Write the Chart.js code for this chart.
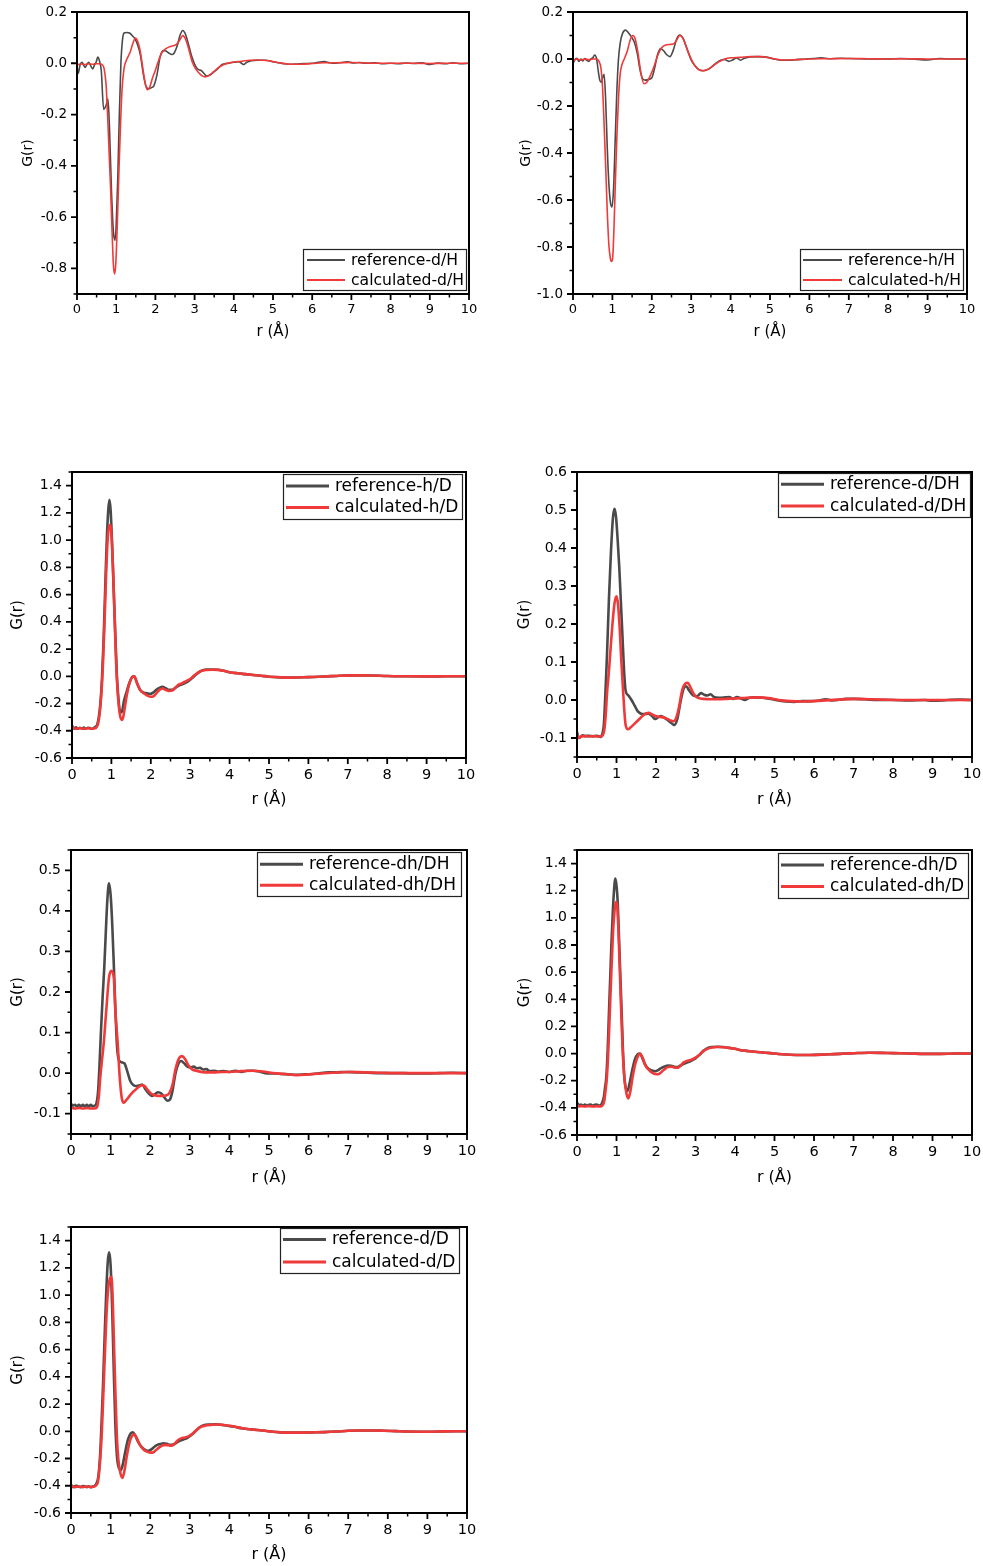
<!DOCTYPE html>
<html>
<head>
<meta charset="utf-8">
<script src="https://cdn.jsdelivr.net/npm/chart.js@4.4.0/dist/chart.umd.min.js"></script>
<style>
  html,body{margin:0;padding:0;background:#fff;}
  body{width:983px;height:1566px;position:relative;overflow:hidden;}
  canvas{position:absolute;display:block;}
</style>
</head>
<body>
<canvas id="c1"></canvas>
<canvas id="c2"></canvas>
<canvas id="c3"></canvas>
<canvas id="c4"></canvas>
<canvas id="c5"></canvas>
<canvas id="c6"></canvas>
<canvas id="c7"></canvas>
<script>
// ---------- tick labels ----------
const xTicks = [0,1,2,3,4,5,6,7,8,9,10];
const yTicks_dH = [0.2,0.0,-0.2,-0.4,-0.6,-0.8];
const yTicks_hH = [0.2,0.0,-0.2,-0.4,-0.6,-0.8,-1.0];
const yTicks_D = [1.4,1.2,1.0,0.8,0.6,0.4,0.2,0.0,-0.2,-0.4,-0.6];
const yTicks_dDH = [0.6,0.5,0.4,0.3,0.2,0.1,0.0,-0.1];
const yTicks_dhDH = [0.5,0.4,0.3,0.2,0.1,0.0,-0.1];

// ---------- series: [r (Å), G(r)] ----------
const ref_dH = [[0,-0.01],[0.03,-0.04],[0.08,-0.005],[0.13,0.004],[0.17,-0.008],[0.21,-0.016],[0.26,-0.002],[0.3,0.004],[0.35,-0.01],[0.4,-0.022],[0.45,-0.005],[0.49,0.005],[0.53,0.024],[0.58,0.005],[0.62,-0.03],[0.68,-0.18],[0.74,-0.165],[0.79,-0.14],[0.83,-0.26],[0.88,-0.5],[0.93,-0.66],[0.97,-0.69],[1.0,-0.63],[1.04,-0.45],[1.08,-0.2],[1.12,0.0],[1.16,0.09],[1.2,0.118],[1.27,0.12],[1.34,0.118],[1.41,0.108],[1.48,0.095],[1.55,0.07],[1.62,0.03],[1.69,-0.04],[1.76,-0.09],[1.83,-0.1],[1.9,-0.095],[1.96,-0.088],[2.04,-0.045],[2.12,0.025],[2.2,0.05],[2.27,0.048],[2.34,0.04],[2.42,0.034],[2.48,0.04],[2.56,0.07],[2.63,0.11],[2.7,0.128],[2.77,0.112],[2.85,0.07],[2.93,0.025],[3.02,-0.01],[3.1,-0.025],[3.17,-0.028],[3.24,-0.04],[3.31,-0.05],[3.4,-0.045],[3.5,-0.033],[3.6,-0.02],[3.7,-0.005],[3.85,0.0],[4.0,0.004],[4.12,0.006],[4.2,0.0],[4.25,-0.005],[4.33,0.004],[4.45,0.01],[4.6,0.012],[4.8,0.012],[5.0,0.006],[5.15,0.002],[5.3,-0.002],[5.45,-0.004],[5.6,-0.003],[5.8,-0.001],[6.0,0.0],[6.15,0.004],[6.3,0.007],[6.45,0.002],[6.6,0.0],[6.75,0.003],[6.9,0.006],[7.05,0.001],[7.2,0.003],[7.4,0.0],[7.6,0.002],[7.8,-0.002],[8.0,0.0],[8.2,-0.002],[8.4,0.001],[8.6,-0.001],[8.8,0.002],[9.0,-0.005],[9.2,0.001],[9.4,-0.002],[9.6,0.002],[9.8,-0.002],[10,0.0]];
const calc_dH = [[0,-0.006],[0.1,-0.003],[0.2,-0.005],[0.3,-0.002],[0.4,-0.004],[0.5,-0.002],[0.58,-0.002],[0.64,-0.006],[0.69,-0.02],[0.74,-0.08],[0.78,-0.2],[0.82,-0.35],[0.86,-0.5],[0.9,-0.68],[0.93,-0.79],[0.96,-0.822],[0.99,-0.78],[1.03,-0.62],[1.07,-0.42],[1.11,-0.24],[1.15,-0.1],[1.2,-0.02],[1.25,0.008],[1.3,0.025],[1.36,0.045],[1.42,0.075],[1.49,0.098],[1.55,0.085],[1.61,0.05],[1.67,-0.01],[1.73,-0.07],[1.79,-0.103],[1.85,-0.095],[1.92,-0.06],[2.0,-0.027],[2.08,0.01],[2.16,0.04],[2.25,0.055],[2.34,0.063],[2.42,0.067],[2.53,0.073],[2.62,0.09],[2.7,0.108],[2.78,0.09],[2.86,0.05],[2.94,0.005],[3.02,-0.02],[3.1,-0.036],[3.18,-0.048],[3.27,-0.053],[3.36,-0.048],[3.48,-0.034],[3.6,-0.018],[3.75,-0.005],[3.9,0.002],[4.0,0.005],[4.2,0.008],[4.4,0.012],[4.6,0.013],[4.85,0.011],[5.05,0.005],[5.25,0.0],[5.45,-0.004],[5.7,-0.004],[6.0,-0.001],[6.3,0.002],[6.6,0.002],[7.0,0.003],[7.4,0.001],[7.8,0.0],[8.2,0.0],[8.6,0.0],[9.0,-0.001],[9.4,0.0],[9.8,0.0],[10,0.0]];

const ref_hH = [[0,-0.02],[0.04,-0.004],[0.1,0.003],[0.15,-0.01],[0.2,0.0],[0.25,-0.008],[0.3,0.002],[0.35,-0.006],[0.4,-0.01],[0.45,0.0],[0.5,0.005],[0.55,0.017],[0.6,0.0],[0.64,-0.05],[0.68,-0.09],[0.72,-0.1],[0.76,-0.075],[0.79,-0.065],[0.83,-0.18],[0.87,-0.38],[0.91,-0.53],[0.95,-0.61],[0.99,-0.63],[1.03,-0.55],[1.07,-0.35],[1.11,-0.15],[1.15,-0.01],[1.2,0.07],[1.26,0.11],[1.33,0.123],[1.4,0.113],[1.48,0.095],[1.56,0.07],[1.63,0.025],[1.7,-0.045],[1.77,-0.085],[1.84,-0.09],[1.92,-0.087],[2.0,-0.08],[2.07,-0.04],[2.14,0.015],[2.22,0.045],[2.3,0.035],[2.38,0.018],[2.46,0.01],[2.55,0.04],[2.63,0.085],[2.71,0.102],[2.8,0.085],[2.9,0.04],[3.0,-0.005],[3.1,-0.03],[3.2,-0.045],[3.3,-0.05],[3.45,-0.042],[3.6,-0.022],[3.75,-0.005],[3.85,-0.002],[3.95,-0.01],[4.05,-0.004],[4.15,0.005],[4.25,-0.005],[4.35,0.003],[4.5,0.009],[4.7,0.01],[4.9,0.008],[5.1,0.0],[5.3,-0.005],[5.6,-0.004],[5.9,0.0],[6.1,0.002],[6.3,0.005],[6.5,0.001],[6.8,0.003],[7.0,0.002],[7.3,0.001],[7.6,0.0],[8.0,0.0],[8.3,0.002],[8.6,0.0],[9.0,-0.004],[9.3,0.002],[9.6,0.0],[10,0.0]];
const calc_hH = [[0,-0.012],[0.05,-0.004],[0.1,0.0],[0.2,-0.005],[0.3,0.0],[0.4,-0.003],[0.5,0.0],[0.6,0.0],[0.66,-0.01],[0.71,-0.04],[0.75,-0.12],[0.79,-0.28],[0.83,-0.46],[0.87,-0.65],[0.91,-0.79],[0.95,-0.85],[0.98,-0.862],[1.01,-0.84],[1.04,-0.72],[1.08,-0.5],[1.12,-0.3],[1.16,-0.15],[1.2,-0.06],[1.25,-0.02],[1.3,0.0],[1.38,0.035],[1.45,0.08],[1.52,0.1],[1.58,0.085],[1.65,0.025],[1.72,-0.055],[1.8,-0.105],[1.87,-0.1],[1.95,-0.075],[2.05,-0.035],[2.15,0.015],[2.25,0.048],[2.35,0.06],[2.45,0.062],[2.55,0.064],[2.63,0.08],[2.71,0.1],[2.79,0.09],[2.9,0.04],[3.0,0.0],[3.1,-0.03],[3.2,-0.046],[3.3,-0.05],[3.42,-0.045],[3.55,-0.03],[3.7,-0.012],[3.85,0.0],[4.0,0.005],[4.25,0.007],[4.5,0.01],[4.8,0.01],[5.0,0.004],[5.3,-0.004],[5.6,-0.003],[6.0,0.0],[6.5,0.001],[7.0,0.002],[7.5,0.001],[8.0,0.0],[8.5,0.001],[9.0,0.0],[9.5,0.0],[10,0.0]];

const ref_hD = [[0,-0.36],[0.05,-0.385],[0.1,-0.375],[0.15,-0.385],[0.2,-0.378],[0.25,-0.383],[0.3,-0.377],[0.35,-0.385],[0.4,-0.378],[0.45,-0.38],[0.5,-0.385],[0.55,-0.38],[0.6,-0.37],[0.64,-0.355],[0.68,-0.3],[0.72,-0.2],[0.76,-0.02],[0.8,0.25],[0.84,0.62],[0.88,0.98],[0.92,1.22],[0.95,1.295],[0.98,1.22],[1.02,0.95],[1.06,0.62],[1.1,0.3],[1.14,0.0],[1.18,-0.17],[1.22,-0.26],[1.26,-0.265],[1.32,-0.18],[1.39,-0.11],[1.46,-0.045],[1.53,-0.005],[1.58,0.0],[1.65,-0.05],[1.73,-0.1],[1.82,-0.12],[1.9,-0.125],[1.98,-0.13],[2.06,-0.12],[2.14,-0.1],[2.22,-0.085],[2.3,-0.078],[2.38,-0.088],[2.46,-0.1],[2.54,-0.1],[2.62,-0.085],[2.7,-0.07],[2.8,-0.058],[2.9,-0.045],[3.0,-0.025],[3.1,0.0],[3.2,0.025],[3.3,0.042],[3.42,0.05],[3.55,0.05],[3.7,0.048],[3.85,0.04],[4.0,0.03],[4.2,0.022],[4.4,0.016],[4.6,0.01],[4.8,0.004],[5.0,-0.003],[5.3,-0.008],[5.6,-0.01],[6.0,-0.006],[6.4,-0.002],[6.8,0.004],[7.2,0.007],[7.6,0.006],[8.0,0.002],[8.5,0.0],[9.0,-0.001],[9.5,0.0],[10,0.0]];
const calc_hD = [[0,-0.37],[0.05,-0.38],[0.1,-0.385],[0.2,-0.382],[0.3,-0.385],[0.4,-0.382],[0.5,-0.385],[0.56,-0.383],[0.62,-0.375],[0.66,-0.35],[0.7,-0.28],[0.74,-0.15],[0.78,0.05],[0.82,0.35],[0.86,0.7],[0.9,0.98],[0.94,1.1],[0.97,1.113],[1.0,1.05],[1.04,0.8],[1.08,0.45],[1.12,0.1],[1.16,-0.12],[1.2,-0.25],[1.24,-0.31],[1.28,-0.32],[1.33,-0.25],[1.39,-0.14],[1.46,-0.05],[1.53,-0.005],[1.58,0.0],[1.65,-0.05],[1.73,-0.1],[1.82,-0.125],[1.9,-0.14],[1.98,-0.15],[2.06,-0.148],[2.14,-0.125],[2.22,-0.1],[2.3,-0.09],[2.38,-0.1],[2.46,-0.108],[2.54,-0.105],[2.62,-0.085],[2.7,-0.062],[2.8,-0.05],[2.9,-0.035],[3.0,-0.02],[3.1,0.005],[3.2,0.027],[3.3,0.04],[3.42,0.046],[3.55,0.048],[3.7,0.047],[3.85,0.04],[4.0,0.03],[4.2,0.022],[4.4,0.016],[4.6,0.01],[4.8,0.004],[5.0,-0.003],[5.3,-0.008],[5.6,-0.01],[6.0,-0.006],[6.4,-0.002],[6.8,0.004],[7.2,0.007],[7.6,0.006],[8.0,0.002],[8.5,0.0],[9.0,-0.001],[9.5,0.0],[10,0.0]];

const ref_dDH = [[0,-0.085],[0.05,-0.1],[0.1,-0.096],[0.15,-0.093],[0.2,-0.095],[0.3,-0.094],[0.4,-0.096],[0.5,-0.094],[0.6,-0.097],[0.64,-0.09],[0.68,-0.065],[0.72,0.02],[0.76,0.12],[0.81,0.27],[0.86,0.39],[0.91,0.48],[0.95,0.503],[0.99,0.48],[1.03,0.42],[1.07,0.35],[1.11,0.26],[1.15,0.17],[1.19,0.08],[1.23,0.025],[1.3,0.012],[1.38,0.0],[1.46,-0.015],[1.54,-0.03],[1.62,-0.036],[1.7,-0.037],[1.8,-0.036],[1.9,-0.042],[1.98,-0.05],[2.06,-0.045],[2.13,-0.042],[2.22,-0.047],[2.3,-0.053],[2.38,-0.06],[2.46,-0.066],[2.54,-0.05],[2.62,-0.005],[2.7,0.03],[2.76,0.036],[2.84,0.025],[2.94,0.012],[3.04,0.01],[3.14,0.018],[3.22,0.014],[3.3,0.012],[3.38,0.015],[3.48,0.007],[3.6,0.006],[3.75,0.007],[3.85,0.008],[3.95,0.003],[4.05,0.008],[4.15,0.004],[4.25,0.0],[4.35,0.005],[4.5,0.007],[4.7,0.006],[4.9,0.003],[5.1,-0.001],[5.3,-0.004],[5.5,-0.005],[5.7,-0.003],[5.9,-0.003],[6.1,-0.002],[6.3,0.002],[6.45,-0.001],[6.6,0.0],[6.8,0.003],[7.0,0.003],[7.3,0.002],[7.6,0.0],[8.0,0.0],[8.4,-0.001],[8.8,0.0],[9.0,-0.002],[9.4,0.0],[9.7,0.001],[10,0.0]];
const calc_dDH = [[0,-0.09],[0.05,-0.1],[0.1,-0.096],[0.2,-0.095],[0.3,-0.096],[0.4,-0.095],[0.5,-0.096],[0.6,-0.096],[0.65,-0.093],[0.69,-0.08],[0.73,-0.035],[0.76,0.018],[0.8,0.065],[0.83,0.106],[0.89,0.19],[0.95,0.255],[1.0,0.273],[1.04,0.25],[1.08,0.19],[1.12,0.106],[1.17,0.018],[1.23,-0.065],[1.29,-0.077],[1.36,-0.072],[1.44,-0.064],[1.52,-0.056],[1.6,-0.048],[1.68,-0.04],[1.76,-0.035],[1.82,-0.034],[1.9,-0.038],[1.98,-0.042],[2.06,-0.044],[2.15,-0.045],[2.25,-0.048],[2.35,-0.053],[2.44,-0.056],[2.5,-0.05],[2.58,-0.02],[2.66,0.025],[2.74,0.043],[2.8,0.045],[2.88,0.032],[2.96,0.015],[3.05,0.006],[3.2,0.003],[3.4,0.002],[3.6,0.002],[3.8,0.003],[4.0,0.004],[4.3,0.006],[4.6,0.007],[4.85,0.005],[5.1,0.0],[5.4,-0.003],[5.7,-0.004],[6.0,-0.003],[6.3,-0.001],[6.6,0.001],[7.0,0.003],[7.4,0.002],[7.8,0.001],[8.2,0.0],[8.6,0.0],[9.0,0.0],[9.5,0.0],[10,0.0]];

const ref_dhDH = [[0,-0.075],[0.05,-0.08],[0.1,-0.078],[0.15,-0.082],[0.2,-0.078],[0.25,-0.082],[0.3,-0.078],[0.35,-0.082],[0.4,-0.078],[0.45,-0.082],[0.5,-0.078],[0.55,-0.082],[0.6,-0.08],[0.64,-0.075],[0.68,-0.05],[0.72,0.02],[0.76,0.11],[0.8,0.19],[0.84,0.26],[0.88,0.35],[0.92,0.43],[0.96,0.468],[1.0,0.44],[1.04,0.37],[1.08,0.27],[1.12,0.16],[1.16,0.07],[1.2,0.035],[1.25,0.028],[1.3,0.026],[1.35,0.024],[1.42,0.005],[1.5,-0.02],[1.58,-0.03],[1.66,-0.032],[1.74,-0.03],[1.8,-0.028],[1.88,-0.04],[1.96,-0.05],[2.04,-0.056],[2.12,-0.052],[2.2,-0.047],[2.28,-0.05],[2.36,-0.06],[2.44,-0.068],[2.5,-0.065],[2.56,-0.045],[2.64,0.0],[2.72,0.025],[2.78,0.03],[2.86,0.024],[2.94,0.016],[3.02,0.014],[3.1,0.016],[3.18,0.012],[3.26,0.013],[3.34,0.009],[3.42,0.01],[3.5,0.005],[3.6,0.006],[3.7,0.004],[3.85,0.005],[4.0,0.003],[4.15,0.006],[4.3,0.003],[4.45,0.006],[4.6,0.006],[4.75,0.004],[4.9,0.0],[5.1,-0.001],[5.3,-0.002],[5.5,-0.003],[5.7,-0.004],[5.9,-0.003],[6.1,-0.002],[6.3,0.0],[6.5,0.002],[6.7,0.002],[6.9,0.003],[7.2,0.002],[7.5,0.001],[7.8,0.0],[8.1,0.0],[8.4,0.0],[8.7,-0.001],[9.0,-0.001],[9.3,0.0],[9.6,0.001],[10,0.0]];
const calc_dhDH = [[0,-0.085],[0.1,-0.087],[0.2,-0.086],[0.3,-0.087],[0.4,-0.086],[0.5,-0.087],[0.6,-0.087],[0.66,-0.083],[0.7,-0.06],[0.74,-0.01],[0.78,0.03],[0.825,0.072],[0.89,0.154],[0.96,0.236],[1.02,0.252],[1.08,0.236],[1.12,0.154],[1.18,0.072],[1.23,-0.01],[1.28,-0.06],[1.33,-0.073],[1.4,-0.066],[1.48,-0.056],[1.56,-0.047],[1.64,-0.04],[1.72,-0.033],[1.8,-0.03],[1.86,-0.032],[1.94,-0.042],[2.02,-0.05],[2.1,-0.054],[2.2,-0.056],[2.3,-0.056],[2.4,-0.055],[2.48,-0.05],[2.56,-0.03],[2.64,0.01],[2.72,0.035],[2.8,0.042],[2.88,0.035],[2.96,0.02],[3.05,0.01],[3.2,0.005],[3.4,0.002],[3.6,0.002],[3.8,0.003],[4.0,0.003],[4.3,0.005],[4.6,0.006],[4.85,0.004],[5.1,0.0],[5.4,-0.002],[5.7,-0.005],[6.0,-0.003],[6.3,-0.001],[6.6,0.001],[7.0,0.003],[7.4,0.002],[7.8,0.001],[8.2,0.0],[8.6,0.0],[9.0,0.0],[9.5,0.0],[10,0.0]];

const ref_dhD = [[0,-0.36],[0.05,-0.38],[0.1,-0.375],[0.15,-0.385],[0.2,-0.376],[0.25,-0.383],[0.3,-0.378],[0.35,-0.376],[0.4,-0.384],[0.45,-0.378],[0.5,-0.376],[0.55,-0.383],[0.6,-0.38],[0.64,-0.36],[0.68,-0.32],[0.71,-0.25],[0.74,-0.18],[0.78,0.05],[0.81,0.31],[0.84,0.55],[0.87,0.8],[0.9,1.0],[0.93,1.17],[0.97,1.29],[1.0,1.24],[1.03,1.12],[1.07,0.8],[1.1,0.55],[1.13,0.31],[1.16,0.05],[1.2,-0.18],[1.24,-0.26],[1.28,-0.275],[1.33,-0.22],[1.4,-0.12],[1.47,-0.04],[1.54,-0.005],[1.59,0.0],[1.65,-0.03],[1.72,-0.08],[1.8,-0.11],[1.9,-0.125],[1.98,-0.13],[2.06,-0.12],[2.14,-0.105],[2.22,-0.095],[2.3,-0.088],[2.38,-0.09],[2.46,-0.098],[2.54,-0.1],[2.62,-0.088],[2.7,-0.075],[2.8,-0.065],[2.9,-0.052],[3.0,-0.035],[3.1,-0.01],[3.2,0.02],[3.3,0.04],[3.42,0.048],[3.55,0.05],[3.7,0.048],[3.85,0.042],[4.0,0.035],[4.15,0.025],[4.3,0.02],[4.5,0.013],[4.7,0.008],[4.9,0.003],[5.1,-0.003],[5.3,-0.007],[5.6,-0.01],[5.9,-0.01],[6.2,-0.008],[6.5,-0.004],[6.8,0.0],[7.1,0.004],[7.4,0.006],[7.7,0.005],[8.0,0.003],[8.4,0.001],[8.8,-0.002],[9.2,-0.002],[9.6,0.0],[10,0.0]];
const calc_dhD = [[0,-0.38],[0.05,-0.39],[0.1,-0.387],[0.2,-0.39],[0.3,-0.387],[0.4,-0.39],[0.5,-0.388],[0.6,-0.39],[0.65,-0.38],[0.69,-0.35],[0.72,-0.28],[0.75,-0.2],[0.79,0.0],[0.83,0.3],[0.87,0.6],[0.91,0.88],[0.95,1.05],[0.99,1.118],[1.02,1.08],[1.05,0.9],[1.08,0.65],[1.12,0.3],[1.16,0.0],[1.2,-0.18],[1.25,-0.29],[1.3,-0.33],[1.35,-0.28],[1.41,-0.17],[1.48,-0.07],[1.55,-0.015],[1.6,0.0],[1.66,-0.03],[1.74,-0.09],[1.82,-0.12],[1.9,-0.14],[1.98,-0.15],[2.06,-0.152],[2.14,-0.135],[2.22,-0.115],[2.3,-0.1],[2.38,-0.097],[2.46,-0.102],[2.54,-0.105],[2.62,-0.09],[2.7,-0.065],[2.78,-0.055],[2.88,-0.048],[3.0,-0.03],[3.1,-0.008],[3.2,0.018],[3.3,0.035],[3.42,0.045],[3.55,0.048],[3.7,0.047],[3.85,0.042],[4.0,0.035],[4.15,0.025],[4.3,0.019],[4.5,0.013],[4.7,0.008],[4.9,0.003],[5.1,-0.003],[5.3,-0.007],[5.6,-0.01],[5.9,-0.01],[6.2,-0.008],[6.5,-0.004],[6.8,0.0],[7.1,0.004],[7.4,0.006],[7.7,0.005],[8.0,0.003],[8.4,0.001],[8.8,-0.002],[9.2,-0.002],[9.6,0.0],[10,0.0]];

const ref_dD = [[0,-0.39],[0.05,-0.41],[0.1,-0.402],[0.15,-0.4],[0.2,-0.408],[0.25,-0.41],[0.3,-0.402],[0.35,-0.405],[0.4,-0.41],[0.45,-0.404],[0.5,-0.41],[0.55,-0.405],[0.6,-0.4],[0.64,-0.385],[0.68,-0.35],[0.71,-0.28],[0.74,-0.15],[0.77,0.05],[0.81,0.35],[0.85,0.7],[0.89,1.02],[0.93,1.25],[0.965,1.314],[1.0,1.22],[1.04,0.9],[1.08,0.45],[1.12,0.05],[1.16,-0.18],[1.21,-0.27],[1.26,-0.285],[1.31,-0.24],[1.37,-0.15],[1.44,-0.06],[1.51,-0.015],[1.56,-0.007],[1.62,-0.03],[1.7,-0.08],[1.78,-0.115],[1.86,-0.135],[1.94,-0.145],[2.02,-0.135],[2.1,-0.115],[2.18,-0.1],[2.26,-0.093],[2.34,-0.088],[2.42,-0.092],[2.5,-0.1],[2.58,-0.098],[2.66,-0.085],[2.74,-0.07],[2.84,-0.06],[2.94,-0.048],[3.04,-0.028],[3.14,0.0],[3.24,0.028],[3.35,0.045],[3.5,0.05],[3.65,0.052],[3.8,0.048],[3.95,0.04],[4.1,0.035],[4.25,0.025],[4.4,0.018],[4.55,0.014],[4.7,0.01],[4.9,0.004],[5.1,-0.004],[5.3,-0.008],[5.5,-0.01],[5.8,-0.01],[6.1,-0.008],[6.4,-0.006],[6.7,-0.002],[7.0,0.004],[7.3,0.006],[7.6,0.006],[7.9,0.004],[8.2,0.001],[8.5,-0.002],[8.8,-0.003],[9.1,-0.003],[9.4,-0.001],[9.7,0.0],[10,0.0]];
const calc_dD = [[0,-0.4],[0.05,-0.405],[0.1,-0.41],[0.2,-0.405],[0.3,-0.41],[0.4,-0.405],[0.5,-0.41],[0.6,-0.405],[0.64,-0.395],[0.68,-0.37],[0.71,-0.3],[0.74,-0.2],[0.78,0.0],[0.82,0.3],[0.86,0.6],[0.9,0.88],[0.94,1.05],[0.98,1.12],[1.02,1.134],[1.05,1.0],[1.08,0.7],[1.12,0.3],[1.16,-0.05],[1.2,-0.22],[1.25,-0.31],[1.3,-0.342],[1.35,-0.29],[1.41,-0.18],[1.48,-0.08],[1.55,-0.03],[1.6,-0.022],[1.66,-0.05],[1.74,-0.1],[1.82,-0.13],[1.9,-0.148],[1.98,-0.155],[2.06,-0.157],[2.14,-0.14],[2.22,-0.12],[2.3,-0.105],[2.38,-0.1],[2.46,-0.103],[2.54,-0.105],[2.62,-0.09],[2.7,-0.065],[2.78,-0.052],[2.88,-0.045],[2.98,-0.035],[3.08,-0.015],[3.18,0.012],[3.28,0.032],[3.4,0.042],[3.55,0.047],[3.7,0.05],[3.85,0.046],[4.0,0.04],[4.15,0.033],[4.3,0.024],[4.5,0.015],[4.7,0.01],[4.9,0.004],[5.1,-0.004],[5.3,-0.008],[5.5,-0.01],[5.8,-0.01],[6.1,-0.008],[6.4,-0.006],[6.7,-0.002],[7.0,0.004],[7.3,0.006],[7.6,0.006],[7.9,0.004],[8.2,0.001],[8.5,-0.002],[8.8,-0.003],[9.1,-0.003],[9.4,-0.001],[9.7,0.0],[10,0.0]];

const refNames = ['reference-d/H','reference-h/H','reference-h/D','reference-d/DH','reference-dh/DH','reference-dh/D','reference-d/D'];
const calcNames = ['calculated-d/H','calculated-h/H','calculated-h/D','calculated-d/DH','calculated-dh/DH','calculated-dh/D','calculated-d/D'];

// ---------- styling / layout ----------
const GRAY = '#4a4a4a';
const RED = '#f03a3a';
const FONT = "'DejaVu Sans', 'Liberation Sans', sans-serif";
const PADL = 75, PADT = 12, PADR = 14, PADB = 58;

const panels = [
  {id:'c1', plot:[77,12,469,294], yMin:-0.9, yMax:0.2, yTicks:yTicks_dH, ref:ref_dH, calc:calc_dH, k:0, small:true,
   legend:{x:303,y:249,w:164,h:42,fs:15.6,l0:4,l1:42,tx:48,r0:11,r1:31}, yT:48.4, xT:38},
  {id:'c2', plot:[573,12,967,294], yMin:-1.0, yMax:0.2, yTicks:yTicks_hH, ref:ref_hH, calc:calc_hH, k:1, small:true,
   legend:{x:800,y:249,w:164,h:42,fs:15.6,l0:3,l1:42,tx:48,r0:11,r1:31}, yT:46.6, xT:38},
  {id:'c3', plot:[72,472,466,758], yMin:-0.6, yMax:1.5, yTicks:yTicks_D, ref:ref_hD, calc:calc_hD, k:2,
   legend:{x:283,y:474,w:180,h:46,fs:17,l0:3,l1:46,tx:52,r0:12,r1:33.5}, yT:53.4, xT:42},
  {id:'c4', plot:[577,472,972,757], yMin:-0.15, yMax:0.6, yTicks:yTicks_dDH, ref:ref_dDH, calc:calc_dDH, k:3,
   legend:{x:778,y:473,w:193,h:45,fs:17,l0:3,l1:46,tx:52,r0:11.3,r1:33}, yT:52.3, xT:43},
  {id:'c5', plot:[71,850,467,1134], yMin:-0.15, yMax:0.55, yTicks:yTicks_dhDH, ref:ref_dhDH, calc:calc_dhDH, k:4,
   legend:{x:257,y:852,w:205,h:45,fs:17,l0:3,l1:46,tx:52,r0:12.3,r1:33.3}, yT:52.4, xT:44},
  {id:'c6', plot:[577,850,972,1135], yMin:-0.6, yMax:1.5, yTicks:yTicks_D, ref:ref_dhD, calc:calc_dhD, k:5,
   legend:{x:778,y:853,w:191,h:46,fs:17,l0:3,l1:46,tx:52,r0:12,r1:33.5}, yT:51.7, xT:43},
  {id:'c7', plot:[71,1227,467,1513], yMin:-0.6, yMax:1.5, yTicks:yTicks_D, ref:ref_dD, calc:calc_dD, k:6,
   legend:{x:280,y:1228,w:180,h:46,fs:17,l0:3,l1:46,tx:52,r0:11.5,r1:34}, yT:52.4, xT:42}
];

const framePlugin = {
  id: 'frameTicks',
  afterDatasetsDraw(chart) {
    const o = chart.options.plugins.frameTicks;
    const {ctx, chartArea: a} = chart;
    const xs = chart.scales.x, ys = chart.scales.y;
    ctx.save();
    ctx.strokeStyle = '#000';
    ctx.lineCap = 'butt';
    ctx.lineWidth = 1.8;
    ctx.beginPath();
    o.xMajor.forEach(v => { const p = xs.getPixelForValue(v); ctx.moveTo(p, a.bottom); ctx.lineTo(p, a.bottom + 6); });
    o.yMajor.forEach(v => { const p = ys.getPixelForValue(v); ctx.moveTo(a.left, p); ctx.lineTo(a.left - 6, p); });
    ctx.stroke();
    ctx.lineWidth = 1.5;
    ctx.beginPath();
    o.xMinor.forEach(v => { const p = xs.getPixelForValue(v); ctx.moveTo(p, a.bottom); ctx.lineTo(p, a.bottom + 3.5); });
    o.yMinor.forEach(v => { const p = ys.getPixelForValue(v); ctx.moveTo(a.left, p); ctx.lineTo(a.left - 3.5, p); });
    ctx.stroke();
    ctx.lineWidth = 2;
    ctx.strokeRect(a.left, a.top, a.right - a.left, a.bottom - a.top);
    ctx.restore();
  }
};

const boxLegendPlugin = {
  id: 'boxLegend',
  afterDraw(chart) {
    const o = chart.options.plugins.boxLegend;
    const ctx = chart.ctx;
    const L = o.box;
    const x = L.x - o.ox, y = L.y - o.oy;
    ctx.save();
    ctx.fillStyle = '#fff';
    ctx.fillRect(x, y, L.w, L.h);
    ctx.strokeStyle = '#222';
    ctx.lineWidth = 1.2;
    ctx.strokeRect(x + 0.5, y + 0.5, L.w - 1, L.h - 1);
    const ds = chart.data.datasets;
    const rows = [[ds[1], L.r0], [ds[0], L.r1]];
    ctx.font = L.fs + 'px ' + FONT;
    ctx.textBaseline = 'middle';
    ctx.textAlign = 'left';
    rows.forEach(([d, ry]) => {
      ctx.strokeStyle = d.borderColor;
      ctx.lineWidth = o.lw;
      ctx.beginPath();
      ctx.moveTo(x + L.l0, y + ry);
      ctx.lineTo(x + L.l1, y + ry);
      ctx.stroke();
      ctx.fillStyle = '#000';
      ctx.fillText(d.label, x + L.tx, y + ry + 0.5);
    });
    ctx.restore();
  }
};

function minorTicks(major, min, max) {
  const s = [...major].sort((a, b) => a - b);
  const out = [];
  for (let i = 0; i < s.length - 1; i++) out.push((s[i] + s[i + 1]) / 2);
  const st = s[1] - s[0];
  if (s[0] - st / 2 >= min - 1e-9) out.push(s[0] - st / 2);
  if (s[s.length - 1] + st / 2 <= max + 1e-9) out.push(s[s.length - 1] + st / 2);
  return out;
}

Chart.defaults.font.family = FONT;
Chart.defaults.color = '#000';

panels.forEach(p => {
  const [l, t, r, b] = p.plot;
  const cv = document.getElementById(p.id);
  const W = (r - l) + PADL + PADR, H = (b - t) + PADT + PADB;
  const ox = l - PADL, oy = t - PADT;
  cv.width = W; cv.height = H;
  cv.style.left = ox + 'px'; cv.style.top = oy + 'px';
  cv.style.width = W + 'px'; cv.style.height = H + 'px';
  const lw = p.small ? 1.6 : 2.6;
  const tickFs = p.small ? 13.5 : 14;
  const xTickFs = p.small ? 13 : 14.5;
  const xTitleFs = p.small ? 15 : 16;
  const yTitleFs = p.small ? 14 : 15;
  const toXY = arr => arr.map(([x, y]) => ({x, y}));
  new Chart(cv, {
    type: 'line',
    data: {
      datasets: [
        {label: calcNames[p.k], data: toXY(p.calc), borderColor: RED, borderWidth: lw, pointRadius: 0, fill: false, cubicInterpolationMode: 'monotone', order: 0},
        {label: refNames[p.k], data: toXY(p.ref), borderColor: GRAY, borderWidth: lw, pointRadius: 0, fill: false, cubicInterpolationMode: 'monotone', order: 1}
      ]
    },
    options: {
      responsive: false,
      animation: false,
      devicePixelRatio: 1,
      events: [],
      layout: {padding: {left: 0, top: PADT, right: PADR, bottom: 0}},
      plugins: {
        legend: {display: false},
        tooltip: {enabled: false},
        frameTicks: {xMajor: xTicks, yMajor: p.yTicks, xMinor: minorTicks(xTicks, 0, 10), yMinor: minorTicks(p.yTicks, p.yMin, p.yMax)},
        boxLegend: {box: p.legend, ox: ox, oy: oy, lw: p.small ? 2 : 3}
      },
      scales: {
        x: {
          type: 'linear', min: 0, max: 10,
          grid: {display: false, drawTicks: false}, border: {display: false},
          ticks: {padding: p.small ? 7.7 : 8.8, font: {size: xTickFs}, color: '#000', autoSkip: false, maxRotation: 0, callback: v => String(v)},
          afterBuildTicks: s => { s.ticks = xTicks.map(v => ({value: v})); },
          afterFit: s => { s.height = PADB; s.paddingLeft = 0; s.paddingRight = 0; },
          title: {display: true, text: 'r (Å)', color: '#000', font: {size: xTitleFs}, padding: {top: 0, bottom: PADB - p.xT - xTitleFs * 0.6}}
        },
        y: {
          type: 'linear', min: p.yMin, max: p.yMax,
          grid: {display: false, drawTicks: false}, border: {display: false},
          ticks: {padding: 10, font: {size: tickFs}, color: '#000', autoSkip: false, callback: v => Number(v).toFixed(1)},
          afterBuildTicks: s => { s.ticks = p.yTicks.map(v => ({value: v})); },
          afterFit: s => { s.width = PADL; s.paddingTop = 0; s.paddingBottom = 0; },
          title: {display: true, text: 'G(r)', color: '#000', font: {size: yTitleFs}, padding: {top: PADL - p.yT - yTitleFs * 0.6, bottom: 0}}
        }
      }
    },
    plugins: [framePlugin, boxLegendPlugin]
  });
});
</script>
</body>
</html>
